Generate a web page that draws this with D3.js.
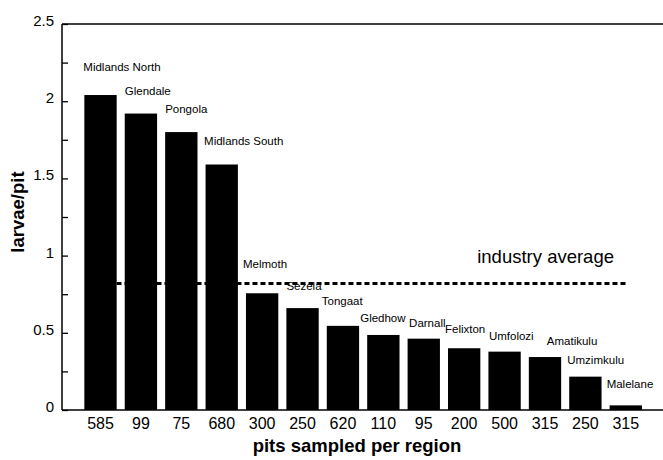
<!DOCTYPE html>
<html>
<head>
<meta charset="utf-8">
<script src="https://cdn.jsdelivr.net/npm/d3@7"></script>
<style>
  html, body { margin: 0; padding: 0; background: #fff; }
  svg text { font-family: "Liberation Sans", Arial, Helvetica, sans-serif; fill: #000; }
</style>
</head>
<body>
<svg id="chart" width="663" height="460"></svg>
<script>
// ---- data ----
const regions = ["Midlands North", "Glendale", "Pongola", "Midlands South", "Melmoth", "Sezela",
  "Tongaat", "Gledhow", "Darnall", "Felixton", "Umfolozi", "Amatikulu", "Umzimkulu", "Malelane"];
const pitsSampled = ["585", "99", "75", "680", "300", "250", "620", "110", "95", "200", "500", "315", "250", "315"];
const larvaePerPit = [2.04, 1.92, 1.80, 1.59, 0.756, 0.66, 0.545, 0.486, 0.462, 0.40, 0.378, 0.343, 0.216, 0.03];
const industryAverage = 0.82;
const yTickValues = [0, 0.5, 1, 1.5, 2, 2.5];
const yMinorTickValues = [0, 0.25, 0.5, 0.75, 1, 1.25, 1.5, 1.75, 2, 2.25, 2.5];

// label nudges (layout only): [dx from bar left, dy above bar top]
const labelNudge = [[-1, 24], [0, 19], [0, 19], [-1.5, 20], [-3, 25], [0, 18], [-5, 21],
  [-7, 13], [1.5, 12], [-3, 15], [0.5, 12], [18, 12], [-2, 13], [-3, 17]];

// ---- layout ----
const svg = d3.select("#chart");
const axisX = 62, axisRight = 663, y0px = 410, yTop = 24;

const x = d3.scaleBand()
  .domain(d3.range(regions.length))
  .range([80.3, 646])
  .paddingInner(0.2)
  .paddingOuter(0.1);

const y = d3.scaleLinear().domain([0, 2.5]).range([y0px, yTop]);

// industry average dotted line (behind bars)
svg.append("line")
  .attr("x1", x(0) + x.bandwidth() / 2)
  .attr("x2", x(regions.length - 1) + x.bandwidth() / 2)
  .attr("y1", y(industryAverage))
  .attr("y2", y(industryAverage))
  .attr("stroke", "#000")
  .attr("stroke-width", 3)
  .attr("stroke-dasharray", "5,3");

svg.append("text")
  .attr("x", 614)
  .attr("y", y(industryAverage) - 20)
  .attr("text-anchor", "end")
  .style("font-size", "18.5px")
  .text("industry average");

// bars
svg.selectAll("rect.bar")
  .data(larvaePerPit)
  .join("rect")
  .attr("class", "bar")
  .attr("x", (d, i) => x(i))
  .attr("width", x.bandwidth())
  .attr("y", d => y(d))
  .attr("height", d => y(0) - y(d))
  .attr("fill", "#000");

// bar labels
svg.selectAll("text.lbl")
  .data(larvaePerPit)
  .join("text")
  .attr("class", "lbl")
  .attr("x", (d, i) => x(i) + labelNudge[i][0])
  .attr("y", (d, i) => y(d) - labelNudge[i][1])
  .style("font-size", "11.5px")
  .text((d, i) => regions[i]);

// y axis (inward ticks)
const yAxis = d3.axisRight(y).tickValues(yMinorTickValues).tickSize(6).tickFormat("");
const gy = svg.append("g").attr("transform", `translate(${axisX},0)`).call(yAxis);
gy.select(".domain").remove();
gy.selectAll(".tick line").attr("stroke", "#000").attr("stroke-width", 1.3);

svg.append("line").attr("x1", axisX).attr("x2", axisX).attr("y1", yTop).attr("y2", y0px)
  .attr("stroke", "#000").attr("stroke-width", 1.5);

svg.selectAll("text.ytl")
  .data(yTickValues)
  .join("text")
  .attr("class", "ytl")
  .attr("x", 54)
  .attr("y", d => y(d) + 2)
  .attr("text-anchor", "end")
  .style("font-size", "15px")
  .text(d => d3.format("")(d));

// bottom axis line and top frame line
svg.append("line").attr("x1", axisX).attr("x2", axisRight).attr("y1", y0px).attr("y2", y0px)
  .attr("stroke", "#000").attr("stroke-width", 1.5);
svg.append("line").attr("x1", axisX).attr("x2", axisRight).attr("y1", yTop).attr("y2", yTop)
  .attr("stroke", "#000").attr("stroke-width", 1.5);

// x tick labels
const xAxis = d3.axisBottom(x).tickSize(0).tickFormat(i => pitsSampled[i]);
const gx = svg.append("g").attr("transform", `translate(0,${y0px})`).call(xAxis);
gx.select(".domain").remove();
gx.selectAll(".tick text")
  .attr("dy", 0).attr("y", 19)
  .style("font-size", "16px")
  .style("font-family", "'Liberation Sans', Arial, sans-serif")
  .attr("fill", "#000");

// axis titles
svg.append("text")
  .attr("x", 357)
  .attr("y", 452)
  .attr("text-anchor", "middle")
  .style("font-size", "18.5px")
  .style("font-weight", "bold")
  .text("pits sampled per region");

svg.append("text")
  .attr("transform", "translate(24,212) rotate(-90)")
  .attr("text-anchor", "middle")
  .style("font-size", "18.5px")
  .style("font-weight", "bold")
  .text("larvae/pit");
</script>
</body>
</html>
